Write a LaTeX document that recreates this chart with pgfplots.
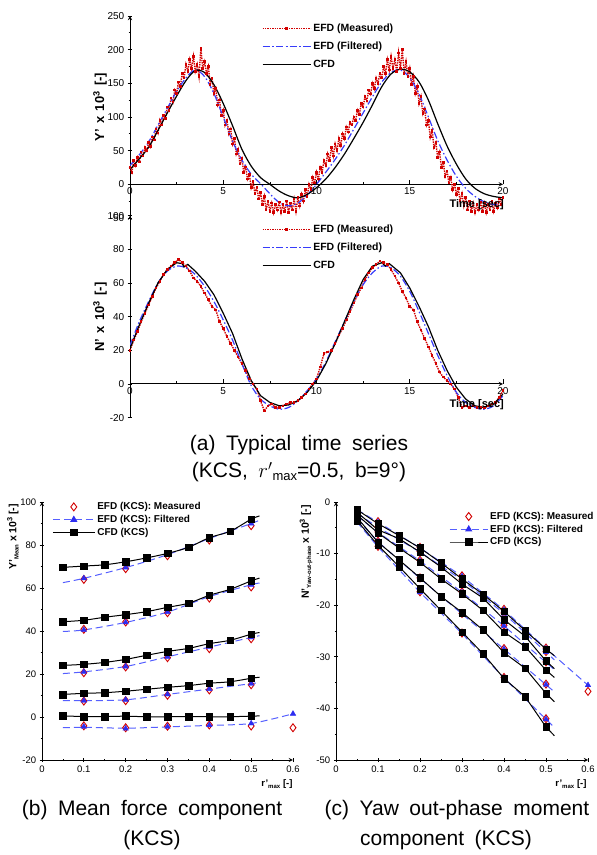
\documentclass[border=0pt]{standalone}
\usepackage{pgfplots}
\pgfplotsset{compat=1.18}
\usepackage{fontspec}
\setmainfont{Liberation Sans}
\newfontfamily\capfont[WordSpace=1.8]{Liberation Sans}

\definecolor{efdred}{RGB}{210,0,0}
\definecolor{efdblue}{RGB}{45,45,240}
\definecolor{tsblue}{RGB}{55,60,250}
\definecolor{dashblue}{RGB}{85,95,255}

\pgfplotsset{
  every axis/.append style={
    scale only axis, anchor=south west,
    /pgf/number format/assume math mode=true,
    tick align=inside,
    major tick length=4.5pt, minor tick length=2.5pt,
    axis line style={line width=0.9pt,-},
    every tick/.style={black,line width=0.7pt},
  },
  tsaxis/.style={
    width=373pt, height=202pt, xmin=0, xmax=20,
    axis x line=middle, axis y line=left,
    xtick={0,5,10,15,20}, minor x tick num=1, minor y tick num=1,
    hide obscured x ticks=false, hide obscured y ticks=false,
    xtick align=inside,
    tick label style={font=\fontsize{10}{12}\selectfont},
    legend cell align=left,
    legend style={draw=none, fill=none, anchor=north west,
      font=\bfseries\fontsize{10.5}{12}\selectfont, row sep=5pt},
    legend image code/.code={\draw[mark repeat=2,mark phase=2,#1] plot coordinates {(0pt,0pt) (24pt,0pt) (48pt,0pt)};},
  },
  rmaxaxis/.style={
    width=251pt, height=258pt, xmin=0, xmax=0.6,
    axis lines=left,
    xtick={0,0.1,0.2,0.3,0.4,0.5,0.6}, minor x tick num=1, minor y tick num=1,
    tick label style={font=\fontsize{9.5}{11}\selectfont},
    legend cell align=left,
    legend style={draw=none, fill=none, anchor=north west,
      font=\bfseries\fontsize{10}{11}\selectfont, row sep=0pt},
    legend image code/.code={\draw[mark repeat=2,mark phase=2,#1] plot coordinates {(0pt,0pt) (21pt,0pt) (42pt,0pt)};},
  },
  meas/.style={only marks, mark=diamond, mark size=4pt, efdred, mark options={line width=0.9pt}},
  filt/.style={only marks, mark=triangle*, mark size=3.2pt, efdblue},
  fline/.style={dashblue, line width=1pt, dash pattern=on 7pt off 4pt},
  cfdm/.style={only marks, mark=square*, mark size=3.3pt, black},
  cline/.style={black, line width=1pt},
  measts/.style={efdred, densely dotted, line width=1.4pt, mark=square*, mark size=0.6pt, mark options={solid}},
  filtts/.style={tsblue, line width=1.2pt, smooth, dash pattern=on 7pt off 2.5pt on 1.5pt off 2.5pt},
}

\begin{document}
\begin{tikzpicture}
\path[use as bounding box] (0,0) rectangle (597pt,855pt);

% ---------- (a) Y' time series ----------
\begin{axis}[tsaxis, at={(130pt,637pt)}, ymin=-50, ymax=250,
  ytick={-50,0,50,100,150,200,250},
  legend style={at={(axis cs:6.9,244)}}]
\addplot[measts] table {
0.0 25
0.1 18
0.2 35
0.3 28
0.4 40
0.5 33
0.6 48
0.7 42
0.8 55
0.9 50
1.0 62
1.1 56
1.2 70
1.3 66
1.4 82
1.5 76
1.6 95
1.7 88
1.8 102
1.9 98
2.0 115
2.1 110
2.2 128
2.3 122
2.4 140
2.5 135
2.6 152
2.7 145
2.8 165
2.9 158
3.0 178
3.1 168
3.2 185
3.3 172
3.4 190
3.5 168
3.6 178
3.7 160
3.8 202
3.9 172
4.0 182
4.1 165
4.2 175
4.3 148
4.4 158
4.5 135
4.6 142
4.7 118
4.8 125
4.9 102
5.0 110
5.1 88
5.2 95
5.3 75
5.4 82
5.5 60
5.6 68
5.7 45
5.8 52
5.9 30
6.0 38
6.1 18
6.2 26
6.3 8
6.4 15
6.5 -5
6.6 4
6.7 -14
6.8 -4
6.9 -22
7.0 -12
7.1 -30
7.2 -18
7.3 -38
7.4 -25
7.5 -40
7.6 -28
7.7 -42
7.8 -30
7.9 -38
8.0 -26
8.1 -42
8.2 -30
8.3 -40
8.4 -25
8.5 -42
8.6 -28
8.7 -38
8.8 -22
8.9 -40
9.0 -20
9.1 -32
9.2 -15
9.3 -25
9.4 -8
9.5 -18
9.6 0
9.7 -8
9.8 10
9.9 2
10.0 18
10.1 8
10.2 25
10.3 18
10.4 35
10.5 28
10.6 45
10.7 35
10.8 55
10.9 42
11.0 60
11.1 50
11.2 68
11.3 58
11.4 75
11.5 68
11.6 85
11.7 78
11.8 92
11.9 88
12.0 100
12.1 95
12.2 110
12.3 104
12.4 120
12.5 115
12.6 130
12.7 124
12.8 140
12.9 134
13.0 150
13.1 142
13.2 158
13.3 150
13.4 165
13.5 158
13.6 175
13.7 165
13.8 185
13.9 170
14.0 190
14.1 172
14.2 185
14.3 168
14.4 195
14.5 172
14.6 200
14.7 165
14.8 182
14.9 160
15.0 172
15.1 148
15.2 160
15.3 135
15.4 145
15.5 120
15.6 130
15.7 105
15.8 112
15.9 88
16.0 95
16.1 70
16.2 80
16.3 55
16.4 62
16.5 40
16.6 48
16.7 25
16.8 32
16.9 12
17.0 20
17.1 2
17.2 10
17.3 -8
17.4 0
17.5 -15
17.6 -6
17.7 -25
17.8 -14
17.9 -32
18.0 -20
18.1 -38
18.2 -25
18.3 -40
18.4 -28
18.5 -42
18.6 -30
18.7 -38
18.8 -26
18.9 -40
19.0 -28
19.1 -42
19.2 -30
19.3 -38
19.4 -25
19.5 -40
19.6 -28
19.7 -35
19.8 -22
19.9 -30
20.0 -20
};
\addlegendentry{EFD (Measured)}
\addplot[filtts] coordinates {
(0,28)(0.5,44)(1,63)(1.5,88)(2,113)(2.5,138)(3,158)(3.5,170)(4,160)(4.5,135)(5,100)
(5.5,64)(6,36)(6.5,15)(7,1)(7.5,-14)(8,-27)(8.5,-32)(9,-28)(9.5,-16)(10,0)
(10.5,18)(11,37)(11.5,58)(12,82)(12.5,106)(13,130)(13.5,152)(14,166)(14.5,170)(15,158)
(15.5,134)(16,100)(16.5,65)(17,36)(17.5,12)(18,-6)(18.5,-18)(19,-26)(19.5,-30)(20,-28)};
\addlegendentry{EFD (Filtered)}
\addplot[black, line width=1.2pt, smooth] coordinates {
(0,22)(0.5,38)(1,55)(1.5,80)(2,106)(2.5,131)(3,154)(3.5,169)(4,166)(4.5,148)(5,120)
(5.5,87)(6,52)(6.5,27)(7,10)(7.5,0)(8,-10)(8.5,-17)(9,-20)(9.5,-15)(10,-5)
(10.5,8)(11,25)(11.5,45)(12,68)(12.5,92)(13,118)(13.5,145)(14,164)(14.5,171)(15,167)
(15.5,152)(16,125)(16.5,90)(17,57)(17.5,30)(18,8)(18.5,-6)(19,-14)(19.5,-18)(20,-20)};
\addlegendentry{CFD}
\end{axis}

% ---------- (a) N' time series ----------
\begin{axis}[tsaxis, at={(130pt,437.4pt)}, ymin=-20, ymax=100,
  ytick={-20,0,20,40,60,80,100}, minor y tick num=0,
  legend style={at={(axis cs:6.9,97)}}]
\addplot[measts] table {
0.0 20
0.2 26
0.4 31
0.6 37
0.8 42
1.0 47
1.2 52
1.4 57
1.6 61
1.8 65
2.0 68
2.2 70
2.4 72
2.6 74
2.8 72
3.0 70
3.2 67
3.4 63
3.6 61
3.8 58
4.0 54
4.2 50
4.4 46
4.6 44
4.8 37
5.0 33
5.2 28
5.4 24
5.6 20
5.8 16
6.0 12
6.2 8
6.4 3
6.6 0
6.8 -3
7.0 -10
7.2 -16
7.4 -13
7.6 -12
7.8 -14
8.0 -14
8.2 -13
8.4 -12
8.6 -11
8.8 -11
9.0 -10
9.2 -8
9.4 -6
9.6 -3
9.8 0
10.0 3
10.2 10
10.4 18
10.6 19
10.8 20
11.0 24
11.2 29
11.4 33
11.6 38
11.8 43
12.0 48
12.2 53
12.4 57
12.6 62
12.8 66
13.0 69
13.2 71
13.4 73
13.6 72
13.8 71
14.0 68
14.2 64
14.4 60
14.6 55
14.8 51
15.0 46
15.2 44
15.4 37
15.6 32
15.8 27
16.0 22
16.2 17
16.4 12
16.6 7
16.8 4
17.0 2
17.2 0
17.4 -3
17.6 -8
17.8 -14
18.0 -13
18.2 -14
18.4 -13
18.6 -14
18.8 -14
19.0 -14
19.2 -13
19.4 -12
19.6 -11
19.8 -8
20.0 -4
};
\addlegendentry{EFD (Measured)}
\addplot[filtts] coordinates {
(0,23)(0.5,37)(1,49)(1.5,60)(2,67)(2.5,70)(3,69)(3.5,65)(4,58)(4.5,49)(5,38)
(5.5,26)(6,12)(6.5,-1)(7,-9)(7.5,-13)(8,-15)(8.5,-14)(9,-10)(9.5,-4)(10,3)
(10.5,13)(11,25)(11.5,37)(12,49)(12.5,59)(13,66)(13.5,70)(14,69)(14.5,64)(15,55)
(15.5,43)(16,30)(16.5,17)(17,5)(17.5,-5)(18,-11)(18.5,-14)(19,-15)(19.5,-13)(20,-7)};
\addlegendentry{EFD (Filtered)}
\addplot[black, line width=1.2pt] coordinates {
(0,21)(0.5,35)(1,48)(1.5,60)(2,68)(2.5,72)(2.8,71.5)(2.9,69.5)(3.1,71)(3.5,67)(4,61)
(4.5,53)(5,42)(5.5,30)(6,15)(6.5,2)(7,-7)(7.5,-11)(8,-13)(8.5,-12.5)(9,-10)(9.5,-5)
(10,2)(10.5,12)(11,24)(11.5,37)(12,50)(12.5,62)(13,70)(13.5,72)(13.7,70)(13.9,71.5)
(14.5,66)(15,57)(15.5,46)(16,34)(16.5,20)(17,8)(17.5,-2)(18,-9)(18.5,-13)(19,-14)(19.5,-12)(20,-6)};
\addlegendentry{CFD}
\end{axis}

% ---------- (b) mean force ----------
\begin{axis}[rmaxaxis, at={(42pt,95pt)}, ymin=-20, ymax=100,
  ytick={-20,0,20,40,60,80,100},
  legend style={at={(axis cs:0.017,101.7)}}]
\addlegendimage{meas}
\addlegendentry{EFD (KCS): Measured}
\addlegendimage{fline, mark=triangle*, mark size=3.2pt, mark options={solid, fill=efdblue, draw=efdblue}}
\addlegendentry{EFD (KCS): Filtered}
\addlegendimage{cline, mark=square*, mark size=3.3pt}
\addlegendentry{CFD (KCS)}
% measured
\addplot[meas, forget plot] coordinates {(0.1,64)(0.2,69)(0.3,75)(0.4,82.3)(0.5,89)};
\addplot[meas, forget plot] coordinates {(0.1,40.8)(0.2,44.2)(0.3,48.5)(0.4,55.3)(0.5,60.5)};
\addplot[meas, forget plot] coordinates {(0.1,20.6)(0.2,23.3)(0.3,27.6)(0.4,31.8)(0.5,36.4)};
\addplot[meas, forget plot] coordinates {(0.1,7.4)(0.2,7.6)(0.3,10.1)(0.4,12.6)(0.5,15)};
\addplot[meas, forget plot] coordinates {(0.1,-4.1)(0.2,-5)(0.3,-4.3)(0.4,-3.7)(0.5,-4.2)(0.6,-5)};
% filtered curves
\addplot[fline, smooth, forget plot] coordinates {(0.05,62.5)(0.1,64.5)(0.2,69.5)(0.3,75.5)(0.4,83)(0.5,90)(0.52,91.5)};
\addplot[fline, smooth, forget plot] coordinates {(0.05,39.8)(0.1,40.5)(0.2,44)(0.3,48.8)(0.4,56)(0.5,61.5)(0.52,62.3)};
\addplot[fline, smooth, forget plot] coordinates {(0.05,20.2)(0.1,21)(0.2,23.5)(0.3,28)(0.4,32.5)(0.5,37)(0.52,37.8)};
\addplot[fline, smooth, forget plot] coordinates {(0.05,7.6)(0.1,7.6)(0.2,8)(0.3,10.5)(0.4,13)(0.5,15.5)(0.52,16)};
\addplot[fline, smooth, forget plot] coordinates {(0.05,-5)(0.1,-4.8)(0.2,-5.2)(0.3,-4.6)(0.4,-3.9)(0.5,-3)(0.6,1.5)};
\addplot[filt, forget plot] coordinates {(0.1,64.5)(0.2,69.5)(0.3,75.5)(0.4,83)(0.5,90)};
\addplot[filt, forget plot] coordinates {(0.1,40.5)(0.2,44)(0.3,48.8)(0.4,56)(0.5,61.5)};
\addplot[filt, forget plot] coordinates {(0.1,21)(0.2,23.5)(0.3,28)(0.4,32.5)(0.5,37)};
\addplot[filt, forget plot] coordinates {(0.1,7.6)(0.2,8)(0.3,10.5)(0.4,13)(0.5,15.5)};
\addplot[filt, forget plot] coordinates {(0.1,-4.5)(0.2,-5.4)(0.3,-4.5)(0.4,-3.8)(0.5,-3)(0.6,1.5)};
% CFD
\addplot[cline, smooth, forget plot] coordinates {(0.05,69.6)(0.1,70.2)(0.15,70.8)(0.2,72.2)(0.25,74)(0.3,76.1)(0.35,78.9)(0.4,83.4)(0.45,86.4)(0.5,92)(0.52,93.5)};
\addplot[cline, smooth, forget plot] coordinates {(0.05,44.3)(0.1,45)(0.15,46.4)(0.2,47.6)(0.25,49)(0.3,51)(0.35,52.9)(0.4,56.6)(0.45,59.4)(0.5,63.3)(0.52,64.6)};
\addplot[cline, smooth, forget plot] coordinates {(0.05,24)(0.1,24.5)(0.15,25.4)(0.2,26.8)(0.25,28.7)(0.3,30.5)(0.35,31.9)(0.4,34.1)(0.45,35.7)(0.5,38.5)(0.52,39.3)};
\addplot[cline, smooth, forget plot] coordinates {(0.05,10.5)(0.1,11)(0.15,11.3)(0.2,12)(0.25,12.9)(0.3,13.8)(0.35,14.6)(0.4,15.7)(0.45,16.4)(0.5,18)(0.52,18.5)};
\addplot[cline, forget plot] coordinates {(0.05,0.5)(0.1,0.2)(0.15,0.2)(0.2,0.4)(0.25,0.1)(0.3,0.1)(0.35,0.2)(0.4,0.1)(0.45,0.1)(0.5,0.4)(0.52,0.5)};
\addplot[cfdm, forget plot] coordinates {(0.05,69.6)(0.1,70.2)(0.15,70.8)(0.2,72.2)(0.25,74)(0.3,76.1)(0.35,78.9)(0.4,83.4)(0.45,86.4)(0.5,92)};
\addplot[cfdm, forget plot] coordinates {(0.05,44.3)(0.1,45)(0.15,46.4)(0.2,47.6)(0.25,49)(0.3,51)(0.35,52.9)(0.4,56.6)(0.45,59.4)(0.5,63.3)};
\addplot[cfdm, forget plot] coordinates {(0.05,24)(0.1,24.5)(0.15,25.4)(0.2,26.8)(0.25,28.7)(0.3,30.5)(0.35,31.9)(0.4,34.1)(0.45,35.7)(0.5,38.5)};
\addplot[cfdm, forget plot] coordinates {(0.05,10.5)(0.1,11)(0.15,11.3)(0.2,12)(0.25,12.9)(0.3,13.8)(0.35,14.6)(0.4,15.7)(0.45,16.4)(0.5,18)};
\addplot[cfdm, forget plot] coordinates {(0.05,0.5)(0.1,0)(0.15,0.2)(0.2,0.5)(0.25,0)(0.3,0)(0.35,0.2)(0.4,0)(0.45,0)(0.5,0.5)};
\end{axis}

% ---------- (c) yaw out-phase moment ----------
\begin{axis}[rmaxaxis, at={(336pt,95pt)}, width=252pt, ymin=-50, ymax=0,
  ytick={-50,-40,-30,-20,-10,0},
  legend style={at={(axis cs:0.262,-1.15)}},
  legend image code/.code={\draw[mark repeat=2,mark phase=2,#1] plot coordinates {(0pt,0pt) (19pt,0pt) (38pt,0pt)};}]
\addlegendimage{meas}
\addlegendentry{EFD (KCS): Measured}
\addlegendimage{fline, mark=triangle*, mark size=3.2pt, mark options={solid, fill=efdblue, draw=efdblue}}
\addlegendentry{EFD (KCS): Filtered}
\addlegendimage{cline, mark=square*, mark size=3.3pt}
\addlegendentry{CFD (KCS)}
% measured
\addplot[meas, forget plot] coordinates {(0.1,-3.8)(0.2,-8.8)(0.3,-14.3)(0.4,-20.8)(0.5,-28.3)(0.6,-36.7)};
\addplot[meas, forget plot] coordinates {(0.1,-4.8)(0.2,-9.6)(0.3,-15.0)(0.4,-21.5)(0.5,-29.0)};
\addplot[meas, forget plot] coordinates {(0.1,-5.8)(0.2,-11.3)(0.3,-17.4)(0.4,-23.9)(0.5,-31.0)};
\addplot[meas, forget plot] coordinates {(0.1,-7.6)(0.2,-14.7)(0.3,-21.6)(0.4,-28.4)(0.5,-35.3)};
\addplot[meas, forget plot] coordinates {(0.1,-8.6)(0.2,-17.4)(0.3,-25.4)(0.4,-34.0)(0.5,-42.0)};
% filtered curves
\addplot[fline, forget plot] coordinates {(0.05,-1.5)(0.1,-3.9)(0.2,-8.9)(0.3,-14.4)(0.4,-20.9)(0.5,-28.4)(0.6,-35.5)};
\addplot[fline, forget plot] coordinates {(0.05,-2.2)(0.1,-4.9)(0.2,-9.7)(0.3,-15.1)(0.4,-21.6)(0.5,-29.1)(0.52,-30.6)};
\addplot[fline, forget plot] coordinates {(0.05,-2.7)(0.1,-5.9)(0.2,-11.4)(0.3,-17.5)(0.4,-24.0)(0.5,-31.1)(0.52,-32.5)};
\addplot[fline, forget plot] coordinates {(0.05,-3.3)(0.1,-7.7)(0.2,-14.8)(0.3,-21.7)(0.4,-28.5)(0.5,-35.4)(0.52,-36.8)};
\addplot[fline, forget plot] coordinates {(0.05,-3.9)(0.1,-8.7)(0.2,-17.5)(0.3,-25.5)(0.4,-34.1)(0.5,-42.1)(0.52,-43.7)};
\addplot[filt, forget plot] coordinates {(0.1,-3.9)(0.2,-8.9)(0.3,-14.4)(0.4,-20.9)(0.5,-28.4)(0.6,-35.5)};
\addplot[filt, forget plot] coordinates {(0.1,-4.9)(0.2,-9.7)(0.3,-15.1)(0.4,-21.6)(0.5,-29.1)};
\addplot[filt, forget plot] coordinates {(0.1,-5.9)(0.2,-11.4)(0.3,-17.5)(0.4,-24.0)(0.5,-31.1)};
\addplot[filt, forget plot] coordinates {(0.1,-7.7)(0.2,-14.8)(0.3,-21.7)(0.4,-28.5)(0.5,-35.4)};
\addplot[filt, forget plot] coordinates {(0.1,-8.7)(0.2,-17.5)(0.3,-25.5)(0.4,-34.1)(0.5,-42.1)};
% CFD
\addplot[cline, forget plot] coordinates {(0.05,-1.5)(0.1,-4.2)(0.15,-6.5)(0.2,-8.9)(0.25,-11.8)(0.3,-14.9)(0.35,-17.9)(0.4,-21.2)(0.45,-24.9)(0.5,-28.5)(0.52,-29.8)};
\addplot[cline, forget plot] coordinates {(0.05,-2.0)(0.1,-5.4)(0.15,-7.1)(0.2,-9.7)(0.25,-12.6)(0.3,-15.9)(0.35,-18.6)(0.4,-22.8)(0.45,-26.0)(0.5,-30.8)(0.52,-32.3)};
\addplot[cline, forget plot] coordinates {(0.05,-2.5)(0.1,-6.0)(0.15,-8.9)(0.2,-11.7)(0.25,-14.9)(0.3,-17.8)(0.35,-21.0)(0.4,-25.2)(0.45,-28.0)(0.5,-32.6)(0.52,-34.0)};
\addplot[cline, forget plot] coordinates {(0.05,-3.0)(0.1,-7.8)(0.15,-11.2)(0.2,-14.7)(0.25,-18.3)(0.3,-21.4)(0.35,-24.8)(0.4,-29.2)(0.45,-32.2)(0.5,-37.1)(0.52,-38.7)};
\addplot[cline, forget plot] coordinates {(0.05,-3.6)(0.1,-8.4)(0.15,-12.5)(0.2,-16.8)(0.25,-21.0)(0.3,-25.2)(0.35,-29.4)(0.4,-34.2)(0.45,-37.7)(0.5,-43.6)(0.52,-45.3)};
\addplot[cfdm, forget plot] coordinates {(0.05,-1.5)(0.1,-4.2)(0.15,-6.5)(0.2,-8.9)(0.25,-11.8)(0.3,-14.9)(0.35,-17.9)(0.4,-21.2)(0.45,-24.9)(0.5,-28.5)};
\addplot[cfdm, forget plot] coordinates {(0.05,-2.0)(0.1,-5.4)(0.15,-7.1)(0.2,-9.7)(0.25,-12.6)(0.3,-15.9)(0.35,-18.6)(0.4,-22.8)(0.45,-26.0)(0.5,-30.8)};
\addplot[cfdm, forget plot] coordinates {(0.05,-2.5)(0.1,-6.0)(0.15,-8.9)(0.2,-11.7)(0.25,-14.9)(0.3,-17.8)(0.35,-21.0)(0.4,-25.2)(0.45,-28.0)(0.5,-32.6)};
\addplot[cfdm, forget plot] coordinates {(0.05,-3.0)(0.1,-7.8)(0.15,-11.2)(0.2,-14.7)(0.25,-18.3)(0.3,-21.4)(0.35,-24.8)(0.4,-29.2)(0.45,-32.2)(0.5,-37.1)};
\addplot[cfdm, forget plot] coordinates {(0.05,-3.6)(0.1,-8.4)(0.15,-12.5)(0.2,-16.8)(0.25,-21.0)(0.3,-25.2)(0.35,-29.4)(0.4,-34.2)(0.45,-37.7)(0.5,-43.6)};
\end{axis}

% ---------- labels ----------
\node[rotate=90, font=\bfseries\fontsize{13}{15}\selectfont] at (100pt,748pt) {Y'\hspace{0.4em}x\hspace{0.4em}10\textsuperscript{3}\hspace{0.4em}[-]};
\node[rotate=90, font=\bfseries\fontsize{13}{15}\selectfont] at (100pt,538pt) {N'\hspace{0.4em}x\hspace{0.4em}10\textsuperscript{3}\hspace{0.4em}[-]};
\node[anchor=east, font=\bfseries\fontsize{11}{13}\selectfont, inner sep=0pt] at (504pt,650pt) {Time [sec]};
\node[anchor=east, font=\bfseries\fontsize{11}{13}\selectfont, inner sep=0pt] at (504pt,450pt) {Time [sec]};
\node[rotate=90, font=\bfseries\fontsize{10.5}{12}\selectfont] at (13pt,318pt) {Y'\raisebox{-0.4ex}{\fontsize{6}{7}\selectfont Mean}\hspace{0.25em}x\hspace{0.25em}10\textsuperscript{3}\hspace{0.25em}[-]};
\node[rotate=90, font=\bfseries\fontsize{10.5}{12}\selectfont] at (306pt,303pt) {N'\raisebox{-0.4ex}{\fontsize{6}{7}\selectfont Yaw-out-phase}\hspace{0.25em}x\hspace{0.25em}10\textsuperscript{3}\hspace{0.25em}[-]};
\node[font=\bfseries\fontsize{9.5}{11}\selectfont] at (277pt,71pt) {r'\raisebox{-0.4ex}{\fontsize{6}{7}\selectfont max}\hspace{0.3em}[-]};
\node[font=\bfseries\fontsize{9.5}{11}\selectfont] at (571pt,71pt) {r'\raisebox{-0.4ex}{\fontsize{6}{7}\selectfont max}\hspace{0.3em}[-]};

% ---------- captions ----------
\begin{scope}[every node/.style={font=\capfont\fontsize{21}{24}\selectfont, inner sep=0pt}]
\node at (299pt,410pt) {(a) Typical time series};
\node at (299pt,383pt) {(KCS, $r'$\raisebox{-0.3ex}{\fontsize{13}{14}\selectfont max}=0.5, b=9°)};
\node at (152pt,45pt) {(b) Mean force component};
\node at (152pt,15pt) {(KCS)};
\node at (457pt,45pt) {(c) Yaw out-phase moment};
\node at (446pt,15pt) {component (KCS)};
\end{scope}
\end{tikzpicture}
\end{document}
